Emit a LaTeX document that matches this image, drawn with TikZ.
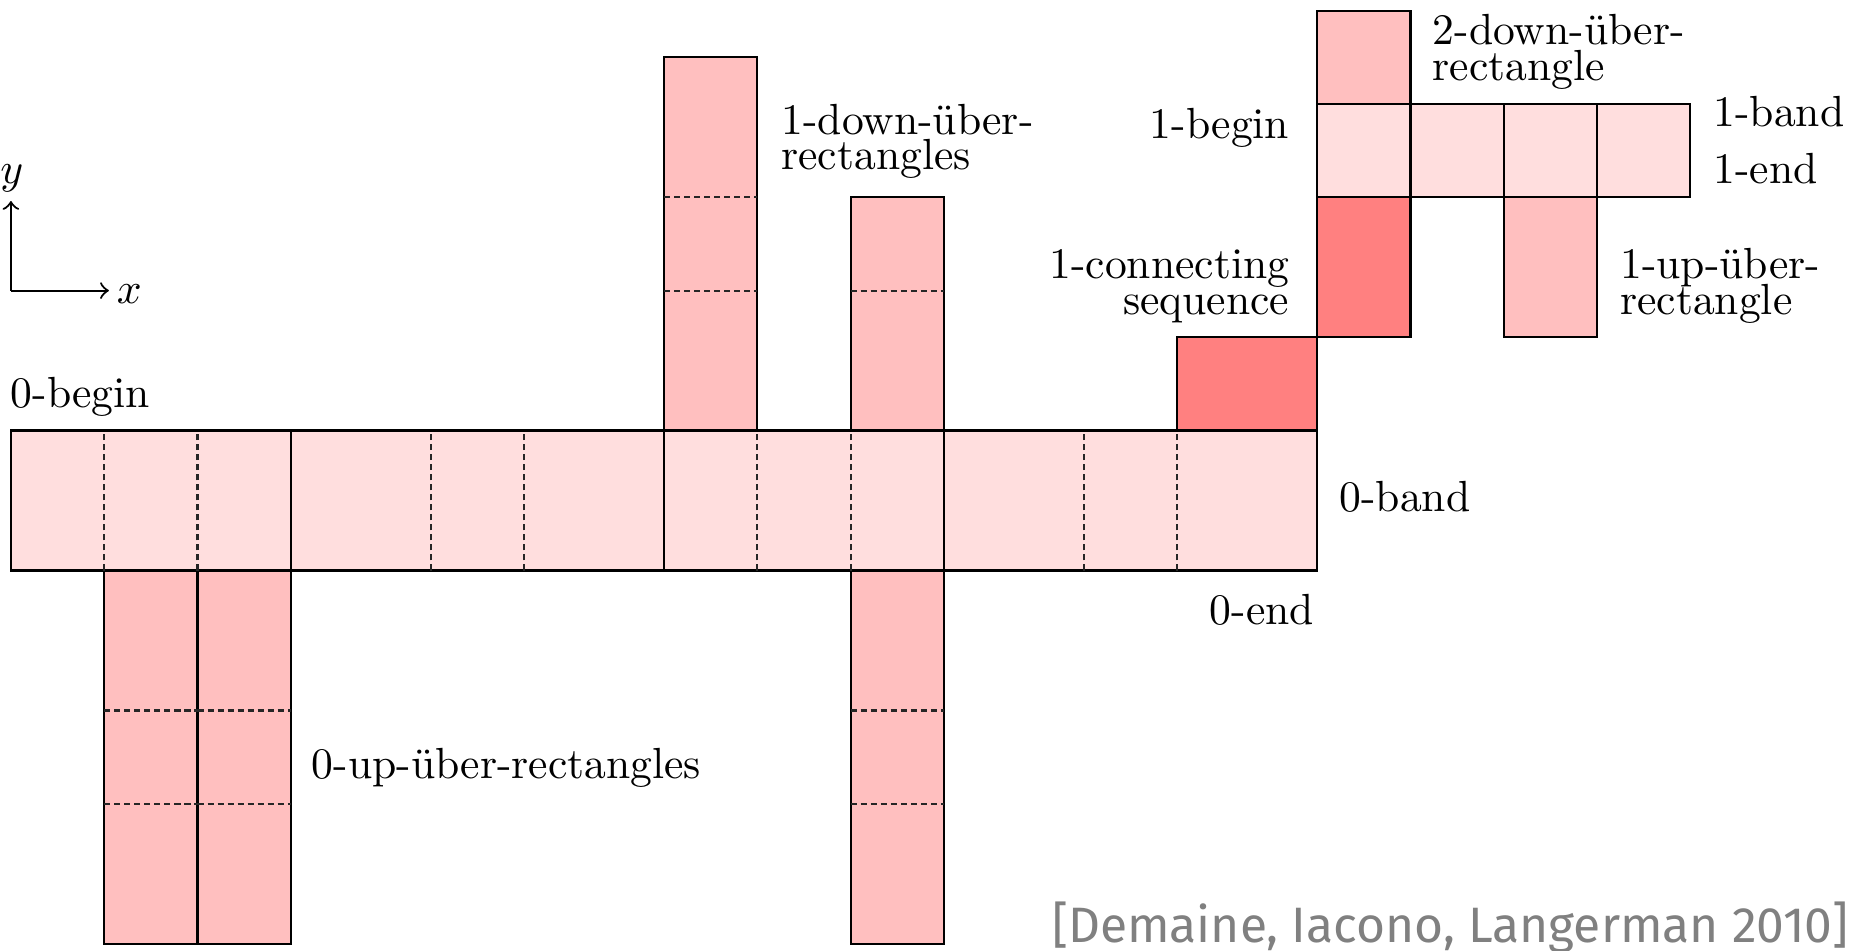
\documentclass[tikz,border=0pt]{standalone}
\usepackage{fontspec}
\newfontfamily\wmfont{Fira Sans}
\colorlet{bandfill}{red!13}
\colorlet{uberfill}{red!25}
\colorlet{connfill}{red!50}
\newcommand\lblL[2]{\vtop{\baselineskip=8.1pt\lineskiplimit=-\maxdimen\halign{##\hfil\cr#1\cr#2\cr}}}
\newcommand\lblR[2]{\vtop{\baselineskip=8.1pt\lineskiplimit=-\maxdimen\halign{\hfil##\cr#1\cr#2\cr}}}
\tikzset{
  cellline/.style={draw=black, line width=0.5pt},
  bandcell/.style={cellline, fill=bandfill},
  ubercell/.style={cellline, fill=uberfill},
  conncell/.style={cellline, fill=connfill},
  divline/.style={draw=black!85, line width=0.5pt, dash pattern=on 1.4pt off 0.9pt},
  lbl/.style={inner sep=0pt, font=\fontsize{10}{8.1}\selectfont},
  axisline/.style={->, line width=0.5pt},
}
\begin{document}
\begin{tikzpicture}[x=10.7pt, y=10.7pt]
\useasboundingbox (-0.234,-8.15) rectangle (39.53,12.23);
% 0-band
\foreach \a/\b in {0/6,6/14,14/20,20/28} \path[bandcell] (\a,0) rectangle (\b,3);
% 1-down-uber-rectangles (above the 0-band)
\path[ubercell] (14,3) rectangle (16,11);
\path[ubercell] (18,3) rectangle (20,8);
% 0-up-uber-rectangles (below the 0-band)
\path[ubercell] (2,-8) rectangle (4,0);
\path[ubercell] (4,-8) rectangle (6,0);
\path[ubercell] (18,-8) rectangle (20,0);
% 1-connecting sequence
\path[conncell] (25,3) rectangle (28,5);
\path[conncell] (28,5) rectangle (30,8);
% 1-band
\foreach \a in {28,30,32,34} \path[bandcell] (\a,8) rectangle ++(2,2);
% 2-down and 1-up uber-rectangles
\path[ubercell] (28,10) rectangle (30,12);
\path[ubercell] (32,5) rectangle (34,8);
% dashed subdivisions
\foreach \x in {2,4,9,11,16,18,23,25} \draw[divline] (\x,0) -- (\x,3);
\foreach \y in {6,8} \draw[divline] (14,\y) -- (16,\y);
\draw[divline] (18,6) -- (20,6);
\foreach \y in {-3,-5} \draw[divline] (2,\y) -- (4,\y) (4,\y) -- (6,\y) (18,\y) -- (20,\y);
% axes
\coordinate (O) at (0,6);
\coordinate (X) at (2.1,6);
\coordinate (Y) at (0,7.92);
\draw[axisline] (O) -- (X);
\draw[axisline] (O) -- (Y);
\node[lbl, anchor=base west] (xl) at (2.25,5.72) {$x$};
\node[lbl, anchor=base] (yl) at (0.02,8.3) {$y$};
% labels
\node[lbl, anchor=base west] (l0begin) at (-0.02,3.5) {0-begin};
\node[lbl, anchor=base west] (l0band) at (28.46,1.26) {0-band};
\node[lbl, anchor=base east] (l0end) at (27.95,-1.16) {0-end};
\node[lbl, anchor=base west] (l0up) at (6.43,-4.45) {0-up-über-rectangles};
\node[lbl, anchor=base west] (l1down) at (16.5,9.35) {\lblL{1-down-über-}{rectangles}};
\node[lbl, anchor=base east] (l1conn) at (27.42,6.25) {\lblR{1-connecting}{sequence}};
\node[lbl, anchor=base east] (l1begin) at (27.42,9.27) {1-begin};
\node[lbl, anchor=base west] (l2down) at (30.46,11.27) {\lblL{2-down-über-}{rectangle}};
\node[lbl, anchor=base west] (l1up) at (34.48,6.25) {\lblL{1-up-über-}{rectangle}};
\node[lbl, anchor=base west] (l1band) at (36.48,9.52) {1-band};
\node[lbl, anchor=base west] (l1end) at (36.48,8.30) {1-end};
% citation
\node[inner sep=0pt, anchor=base west, text=black!50] (cite) at (22.3,-7.98)
  {\resizebox{182.7pt}{!}{\wmfont [Demaine, Iacono, Langerman 2010]}};
\end{tikzpicture}
\end{document}
